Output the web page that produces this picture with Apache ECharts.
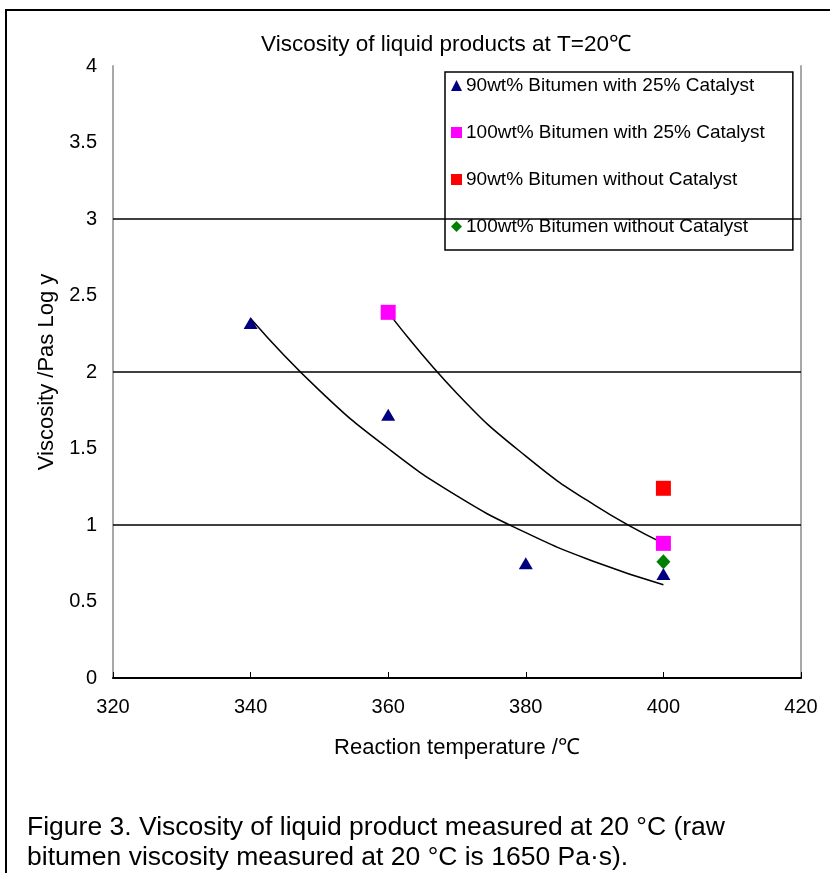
<!DOCTYPE html>
<html>
<head>
<meta charset="utf-8">
<script src="https://cdn.jsdelivr.net/npm/echarts@6/dist/echarts.min.js"></script>
<style>
  html, body { margin: 0; padding: 0; background: #fff; }
  #main { width: 830px; height: 873px; }
</style>
</head>
<body>
<div id="main"></div>
<script>
var font = '"Liberation Sans", Arial, sans-serif';

// measured points [temperature, log viscosity]
var cat90 = [[340, 2.32], [360, 1.72], [380, 0.75], [400, 0.68]];
var cat100 = [[360, 2.39], [400, 0.88]];
var noCat90 = [[400, 1.24]];
var noCat100 = [[400, 0.76]];
// trend curves
var trend90 = [[340, 2.35], [350, 1.88], [360, 1.50], [370, 1.19], [380, 0.95], [390, 0.76], [400, 0.61]];
var trend100 = [[360, 2.39], [370, 1.86], [380, 1.45], [390, 1.13], [400, 0.88]];
var gridLevels = [1, 2, 3];

var names = ['90wt% Bitumen with 25% Catalyst', '100wt% Bitumen with 25% Catalyst',
  '90wt% Bitumen without Catalyst', '100wt% Bitumen without Catalyst'];

var myChart = echarts.init(document.getElementById('main'));
var option = {
  backgroundColor: '#fff',
  animation: false,
  title: {
    text: 'Viscosity of liquid products at T=20\u2103',
    left: 441, top: 28, textAlign: 'center',
    textStyle: { fontFamily: font, fontSize: 22.5, fontWeight: 'normal', color: '#000' }
  },
  legend: {
    data: names,
    orient: 'vertical',
    left: 445, top: 72,
    padding: [4, 28, 14, 6],
    itemGap: 28,
    itemWidth: 11, itemHeight: 11,
    backgroundColor: '#fff',
    borderColor: '#000', borderWidth: 1.5,
    textStyle: { fontFamily: font, fontSize: 19, color: '#000', padding: [0, 0, 0, -1] }
  },
  grid: { left: 113, right: 29, top: 66, bottom: 195 },
  xAxis: {
    type: 'value', min: 320, max: 420, interval: 20,
    name: 'Reaction temperature /\u2103',
    nameLocation: 'middle', nameGap: 59,
    nameTextStyle: { fontFamily: font, fontSize: 22, color: '#000' },
    axisLine: { lineStyle: { color: '#000', width: 2 } },
    axisTick: { inside: true, length: 6, lineStyle: { color: '#000' } },
    axisLabel: { fontFamily: font, fontSize: 20, color: '#000', margin: 19 },
    splitLine: { show: false }
  },
  yAxis: [{
    type: 'value', min: 0, max: 4, interval: 0.5,
    name: 'Viscosity /Pas Log y',
    nameLocation: 'middle', nameGap: 55, nameRotate: 90,
    nameTextStyle: { fontFamily: font, fontSize: 22, color: '#000' },
    axisLine: { show: true, lineStyle: { color: '#a8a8a8', width: 2 } },
    axisTick: { show: false },
    axisLabel: { fontFamily: font, fontSize: 20, color: '#000', margin: 16 },
    splitLine: { show: false }
  }, {
    type: 'value', min: 0, max: 4, position: 'right',
    axisLine: { show: true, lineStyle: { color: '#a8a8a8', width: 2 } },
    axisTick: { show: false }, axisLabel: { show: false }, splitLine: { show: false }
  }],
  series: [{
    name: 'levels', type: 'line', data: [],
    markLine: {
      silent: true, symbol: 'none', label: { show: false },
      lineStyle: { color: '#000', type: 'solid', width: 1.5 },
      data: gridLevels.map(function (v) { return { yAxis: v }; })
    }
  }, {
    name: 'trend90', type: 'line', data: trend90, smooth: true, showSymbol: false,
    lineStyle: { color: '#000', width: 1.5 }, z: 3
  }, {
    name: 'trend100', type: 'line', data: trend100, smooth: true, showSymbol: false,
    lineStyle: { color: '#000', width: 1.5 }, z: 3
  }, {
    name: names[0], type: 'scatter', data: cat90, symbol: 'triangle', symbolSize: [14, 12],
    itemStyle: { color: '#000080', opacity: 1 }, z: 4
  }, {
    name: names[1], type: 'scatter', data: cat100, symbol: 'rect', symbolSize: 15,
    itemStyle: { color: '#ff00ff', opacity: 1 }, z: 4
  }, {
    name: names[2], type: 'scatter', data: noCat90, symbol: 'rect', symbolSize: 15,
    itemStyle: { color: '#ff0000', opacity: 1 }, z: 4
  }, {
    name: names[3], type: 'scatter', data: noCat100, symbol: 'diamond', symbolSize: [14, 15],
    itemStyle: { color: '#008000', opacity: 1 }, z: 5
  }],
  graphic: [{
    type: 'rect', silent: true,
    shape: { x: 6, y: 10, width: 900, height: 900 },
    style: { fill: 'none', stroke: '#000', lineWidth: 2 }
  }, {
    type: 'text', left: 27, top: 813,
    style: {
      text: 'Figure 3. Viscosity of liquid product measured at 20 \u00b0C (raw\nbitumen viscosity measured at 20 \u00b0C is 1650 Pa\u00b7s).',
      fontFamily: font, fontSize: 26.5, lineHeight: 30, fill: '#000'
    }
  }]
};
myChart.setOption(option);
</script>
</body>
</html>
